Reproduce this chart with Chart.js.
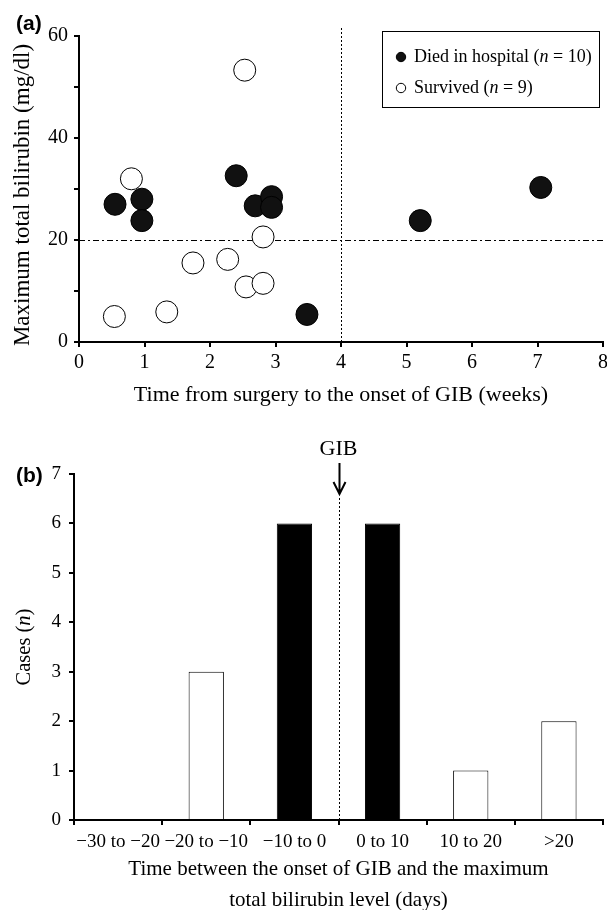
<!DOCTYPE html>
<html lang="en">
<head>
<meta charset="UTF-8">
<title>Bilirubin and GIB</title>
<script src="https://cdn.jsdelivr.net/npm/chart.js"></script>
<style>
  body { margin: 0; background: #fff; width: 607px; height: 910px; position: relative; overflow: hidden; }
  .panel { position: absolute; left: 0; width: 607px; }
  .tag { position: absolute; font: bold 21px "Liberation Sans", Arial, sans-serif; line-height: 21px; z-index: 2; }
</style>
</head>
<body>
<div class="panel" style="top:0; height:420px;"><canvas id="scatterChart"></canvas></div>
<div class="panel" style="top:425px; height:485px;"><canvas id="barChart"></canvas></div>
<div class="tag" style="left:16px; top:12px;">(a)</div>
<div class="tag" style="left:16px; top:464px;">(b)</div>

<script>
// panel (a): weeks from surgery to GIB vs max total bilirubin
const diedWeeks = [0.55, 0.96, 0.96, 2.4, 2.69, 2.94, 2.94, 3.48, 5.21, 7.05];
const diedBilirubin = [27, 28, 23.8, 32.6, 26.7, 28.5, 26.4, 5.4, 23.8, 30.3];
const survivedWeeks = [0.54, 0.8, 1.34, 1.74, 2.27, 2.53, 2.81, 2.55, 2.81];
const survivedBilirubin = [5.0, 32, 5.9, 15.5, 16.2, 53.3, 20.6, 10.8, 11.5];
const groupNames = ['Died in hospital', 'Survived'];
const groupCounts = [10, 9];
const bilirubinTickLabels = [0, 20, 40, 60];
const cutoffBilirubin = 20;
const cutoffWeek = 4;

// panel (b): days between GIB onset and max bilirubin
const intervalLabels = ['\u221230 to \u221220', '\u221220 to \u221210', '\u221210 to 0', '0 to 10', '10 to 20', '>20'];
const caseCounts = [0, 3, 6, 6, 1, 2];
const solidIntervals = ['\u221210 to 0', '0 to 10'];

const serif = '"Liberation Serif", "Times New Roman", serif';

function runsWidth(ctx, runs, size) {
  let w = 0;
  runs.forEach(([txt, it]) => {
    ctx.font = (it ? 'italic ' : '') + size + 'px ' + serif;
    w += ctx.measureText(txt).width;
  });
  return w;
}

function drawRuns(ctx, runs, x, y, size) {
  ctx.textBaseline = 'middle';
  ctx.textAlign = 'left';
  ctx.fillStyle = '#000';
  runs.forEach(([txt, it]) => {
    ctx.font = (it ? 'italic ' : '') + size + 'px ' + serif;
    ctx.fillText(txt, x, y);
    x += ctx.measureText(txt).width;
  });
}

// centred text, optionally turned to read bottom-to-top
function drawTitle(ctx, runs, cx, cy, size, vertical) {
  const tw = runsWidth(ctx, runs, size);
  ctx.save();
  ctx.translate(cx, cy);
  if (vertical) ctx.rotate(-Math.PI / 2);
  drawRuns(ctx, runs, -tw / 2, 0, size);
  ctx.restore();
}

function axisBase(size) {
  return {
    border: { display: true, color: '#000', width: 2 },
    grid: { display: true, drawOnChartArea: false, drawTicks: true, tickLength: 5, color: '#000', lineWidth: 2 },
    ticks: { color: '#000', font: { family: serif, size: size } },
    title: { display: false }
  };
}

// reference lines, titles and boxed legend for (a)
const scatterExtras = {
  id: 'scatterExtras',
  beforeDatasetsDraw(chart) {
    const { ctx, chartArea: a, scales: { x, y } } = chart;
    ctx.save();
    ctx.strokeStyle = '#000';
    ctx.lineWidth = 1;
    const yc = Math.round(y.getPixelForValue(cutoffBilirubin)) + 0.5;
    ctx.setLineDash([6, 3, 2, 3]);
    ctx.beginPath();
    ctx.moveTo(a.left, yc);
    ctx.lineTo(a.right, yc);
    ctx.stroke();
    const xc = Math.round(x.getPixelForValue(cutoffWeek)) + 0.5;
    ctx.setLineDash([2, 2]);
    ctx.beginPath();
    ctx.moveTo(xc, a.top - 8);
    ctx.lineTo(xc, a.bottom);
    ctx.stroke();
    ctx.restore();
  },
  afterDraw(chart) {
    const { ctx, chartArea: a } = chart;
    drawTitle(ctx, [['Time from surgery to the onset of GIB (weeks)', false]], (a.left + a.right) / 2, a.bottom + 53, 22, false);
    drawTitle(ctx, [['Maximum total bilirubin (mg/dl)', false]], 23, (a.top + a.bottom) / 2 + 6, 23, true);

    const w = 217, h = 76;
    const x0 = a.right - 221, y0 = a.top - 5;
    ctx.save();
    ctx.fillStyle = '#fff';
    ctx.fillRect(x0, y0, w, h);
    ctx.strokeStyle = '#000';
    ctx.lineWidth = 1;
    ctx.setLineDash([]);
    ctx.strokeRect(x0 + 0.5, y0 + 0.5, w, h);
    groupNames.forEach((name, i) => {
      const cy = y0 + 26 + i * 31;
      ctx.beginPath();
      ctx.arc(x0 + 19, cy, 4.7, 0, Math.PI * 2);
      ctx.fillStyle = i === 0 ? '#111' : '#fff';
      ctx.fill();
      ctx.strokeStyle = '#000';
      ctx.stroke();
      drawRuns(ctx, [[name + ' (', false], ['n', true], [' = ' + groupCounts[i] + ')', false]], x0 + 32, cy, 18);
    });
    ctx.restore();
  }
};

// GIB arrow and titles for (b)
const barExtras = {
  id: 'barExtras',
  afterDraw(chart) {
    const { ctx, chartArea: a, scales: { x } } = chart;
    const bx = Math.round((x.getPixelForValue(2) + x.getPixelForValue(3)) / 2) + 0.5;
    ctx.save();
    ctx.strokeStyle = '#000';
    ctx.lineWidth = 1;
    ctx.setLineDash([2, 2]);
    ctx.beginPath();
    ctx.moveTo(bx, a.top + 24);
    ctx.lineTo(bx, a.bottom);
    ctx.stroke();
    ctx.setLineDash([]);
    ctx.lineWidth = 2;
    ctx.beginPath();
    ctx.moveTo(bx, a.top - 11);
    ctx.lineTo(bx, a.top + 20);
    ctx.moveTo(bx - 6, a.top + 8);
    ctx.lineTo(bx, a.top + 20);
    ctx.lineTo(bx + 6, a.top + 8);
    ctx.stroke();
    ctx.restore();

    drawTitle(ctx, [['GIB', false]], bx - 1, a.top - 25, 22, false);
    drawTitle(ctx, [['Cases (', false], ['n', true], [')', false]], 25, (a.top + a.bottom) / 2, 20.5, true);
    const cx = (a.left + a.right) / 2;
    drawTitle(ctx, [['Time between the onset of GIB and the maximum', false]], cx, a.bottom + 49, 21, false);
    drawTitle(ctx, [['total bilirubin level (days)', false]], cx, a.bottom + 80, 21, false);
  }
};

const scatterX = axisBase(20);
Object.assign(scatterX, {
  type: 'linear', min: 0, max: 8,
  afterFit: s => { s.height = 78; s.paddingLeft = 0; s.paddingRight = 0; }
});
scatterX.ticks.stepSize = 1;
scatterX.ticks.padding = 4;

const scatterY = axisBase(20);
Object.assign(scatterY, {
  min: 0, max: 60,
  afterFit: s => { s.width = 79; }
});
scatterY.ticks.stepSize = 10;
scatterY.ticks.padding = 6;
scatterY.ticks.callback = v => bilirubinTickLabels.includes(v) ? v : '';

new Chart(document.getElementById('scatterChart'), {
  type: 'scatter',
  data: {
    datasets: [
      {
        label: groupNames[0],
        data: diedWeeks.map((w, i) => ({ x: w, y: diedBilirubin[i] })),
        pointRadius: 11, pointBackgroundColor: '#111', pointBorderColor: '#000', pointBorderWidth: 1
      },
      {
        label: groupNames[1],
        data: survivedWeeks.map((w, i) => ({ x: w, y: survivedBilirubin[i] })),
        pointRadius: 11, pointBackgroundColor: '#fff', pointBorderColor: '#000', pointBorderWidth: 1
      }
    ]
  },
  options: {
    responsive: true,
    maintainAspectRatio: false,
    animation: false,
    devicePixelRatio: 1,
    layout: { autoPadding: false, padding: { left: 0, right: 4, top: 36, bottom: 0 } },
    plugins: { legend: { display: false }, tooltip: { enabled: false } },
    scales: { x: scatterX, y: scatterY }
  },
  plugins: [scatterExtras]
});

const barX = axisBase(19);
Object.assign(barX, {
  type: 'category', offset: true,
  afterFit: s => { s.height = 90; }
});
barX.grid.offset = true;
barX.ticks.autoSkip = false;
barX.ticks.maxRotation = 0;
barX.ticks.minRotation = 0;
barX.ticks.padding = 6;

const barY = axisBase(19);
Object.assign(barY, {
  min: 0, max: 7,
  afterFit: s => { s.width = 74; }
});
barY.ticks.stepSize = 1;
barY.ticks.padding = 8;

new Chart(document.getElementById('barChart'), {
  type: 'bar',
  data: {
    labels: intervalLabels,
    datasets: [{
      label: 'Cases',
      data: caseCounts,
      backgroundColor: intervalLabels.map(l => solidIntervals.includes(l) ? '#000' : '#fff'),
      borderColor: '#000',
      borderWidth: 1,
      barPercentage: 0.4,
      categoryPercentage: 1.0
    }]
  },
  options: {
    responsive: true,
    maintainAspectRatio: false,
    animation: false,
    devicePixelRatio: 1,
    layout: { autoPadding: false, padding: { left: 0, right: 4, top: 49, bottom: 0 } },
    plugins: { legend: { display: false }, tooltip: { enabled: false } },
    scales: { x: barX, y: barY }
  },
  plugins: [barExtras]
});
</script>
</body>
</html>
